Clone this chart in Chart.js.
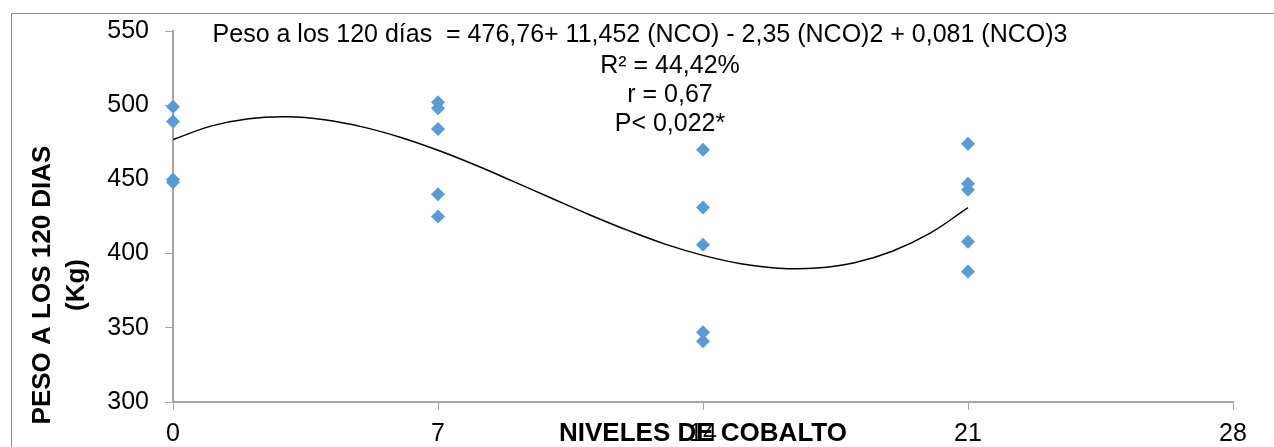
<!DOCTYPE html>
<html>
<head>
<meta charset="utf-8">
<script src="https://cdn.jsdelivr.net/npm/chart.js@4.4.1/dist/chart.umd.min.js"></script>
<style>
  body { margin: 0; background: #fff; }
  #wrap { position: relative; width: 1274px; height: 447px; overflow: hidden; }
  #frame { position: absolute; left: 11px; top: 13px; width: 1262px; height: 500px; border: 1px solid #8c8c8c; pointer-events: none; }
  canvas { position: absolute; left: 0; top: 0; }
</style>
</head>
<body>
<div id="wrap">
  <canvas id="grafico" width="1274" height="447"></canvas>
  <div id="frame"></div>
</div>
<script>
// niveles de cobalto (eje X) y pesos
const niveles = [0, 7, 14, 21];
const peso0 = [499, 489, 450, 448];
const peso7 = [502, 498, 484, 440, 425];
const peso14 = [470, 431, 406, 347, 341];
const peso21 = [474, 447, 443, 408, 388];

// linea de tendencia (x = 0..21)
const tendX = [0, 1, 2, 3, 4, 5, 6, 7, 8, 9, 10, 11, 12, 13, 14, 15, 16, 17, 18, 19, 20, 21];
const tendY = [476.8, 485.9, 490.9, 492.2, 490.2, 485.4, 478.4, 469.6, 459.5, 448.5, 437.3,
               426.2, 415.8, 406.4, 398.8, 393.2, 390.2, 390.3, 393.9, 401.6, 413.8, 431.0];

const xTicks = [0, 7, 14, 21, 28];
const yTicks = [300, 350, 400, 450, 500, 550];

const tituloY = ['PESO A LOS 120 DIAS', '(Kg)'];
const tituloX = 'NIVELES DE COBALTO';
const ecuacion = 'Peso a los 120 días  = 476,76+ 11,452 (NCO) - 2,35 (NCO)2 + 0,081 (NCO)3';
const estadisticos = ['R² = 44,42%', 'r = 0,67', 'P< 0,022*'];

const fuente = '"Liberation Sans", Arial, sans-serif';

// armar los puntos
const puntos = [];
[peso0, peso7, peso14, peso21].forEach(function (grupo, i) {
  grupo.forEach(function (p) {
    puntos.push({ x: niveles[i], y: p });
  });
});
const tendencia = tendX.map(function (x, i) { return { x: x, y: tendY[i] }; });

// textos extra: titulos de ejes y ecuacion
const textos = {
  id: 'textos',
  afterDraw(chart) {
    const ctx = chart.ctx;
    const area = chart.chartArea;
    ctx.save();
    ctx.fillStyle = '#000';
    ctx.textAlign = 'center';
    ctx.textBaseline = 'middle';

    // ecuacion
    ctx.font = '25px ' + fuente;
    ctx.fillText(ecuacion, 640, 35);
    estadisticos.forEach(function (t, i) {
      ctx.fillText(t, 670, 66 + i * 29);
    });

    // titulo eje X (encima del 14)
    ctx.font = 'bold 26px ' + fuente;
    ctx.fillText(tituloX, (area.left + area.right) / 2, 434);

    // titulo eje Y
    ctx.translate(0, 285);
    ctx.rotate(-Math.PI / 2);
    tituloY.forEach(function (t, i) {
      ctx.fillText(t, 0, 43 + i * 34);
    });
    ctx.restore();
  }
};

new Chart(document.getElementById('grafico'), {
  type: 'scatter',
  data: {
    datasets: [{
      label: 'Peso',
      data: puntos,
      clip: false,
      pointStyle: 'rectRot',
      pointRadius: 7,
      pointHoverRadius: 7,
      pointBorderWidth: 0,
      backgroundColor: '#5b9bd5',
      borderColor: '#5b9bd5'
    }, {
      label: 'Tendencia',
      type: 'line',
      data: tendencia,
      showLine: true,
      pointRadius: 0,
      borderColor: '#000',
      borderWidth: 1.5,
      tension: 0.4,
      fill: false
    }]
  },
  options: {
    responsive: false,
    animation: false,
    devicePixelRatio: 1,
    layout: { padding: { left: 0, top: 28, right: 41, bottom: 0 } },
    plugins: {
      legend: { display: false },
      tooltip: { enabled: false }
    },
    scales: {
      x: {
        type: 'linear',
        min: 0,
        max: 28,
        afterBuildTicks: function (s) { s.ticks = xTicks.map(function (v) { return { value: v }; }); },
        afterFit: function (s) { s.height = 45; },
        ticks: { color: '#000', font: { size: 25, family: fuente }, padding: 9, maxRotation: 0 },
        grid: { drawOnChartArea: false, drawTicks: true, tickLength: 8, color: '#a6a6a6', tickWidth: 1 },
        border: { color: '#a6a6a6', width: 2 }
      },
      y: {
        min: 300,
        max: 550,
        afterBuildTicks: function (s) { s.ticks = yTicks.map(function (v) { return { value: v }; }); },
        afterFit: function (s) { s.width = 173; },
        ticks: { color: '#000', font: { size: 25, family: fuente }, padding: 16 },
        grid: { drawOnChartArea: false, drawTicks: true, tickLength: 8, color: '#a6a6a6', tickWidth: 1 },
        border: { color: '#a6a6a6', width: 2 }
      }
    }
  },
  plugins: [textos]
});
</script>
</body>
</html>
